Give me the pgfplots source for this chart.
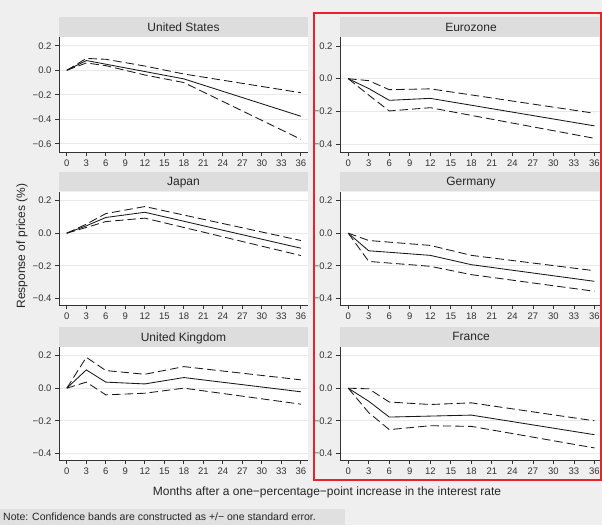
\documentclass[border=0pt]{standalone}
\usepackage{fontspec}
\setmainfont{Liberation Sans}
\usepackage{pgfplots}
\usepackage{pgfplotstable}
\pgfplotsset{compat=1.18}

\definecolor{bggray}{HTML}{EFEFEF}
\definecolor{bargray}{HTML}{DDDDDD}
\definecolor{notegray}{HTML}{E0E0E0}
\definecolor{gridgray}{HTML}{E8E8E8}
\definecolor{axisgray}{HTML}{333333}
\definecolor{boxred}{HTML}{E8232A}

% impulse responses: month, point estimate, lower band, upper band
\pgfplotstableread{
m   irf     lo      hi
0   0       0       0
3   0.080   0.060   0.097
6   0.050   0.038   0.090
12  -0.010  -0.038  0.035
18  -0.070  -0.100  -0.030
36  -0.375  -0.563  -0.183
}\tabUS
\pgfplotstableread{
m   irf     lo      hi
0   0       0       0
3   -0.060  -0.100  -0.012
6   -0.132  -0.197  -0.067
12  -0.120  -0.177  -0.062
18  -0.162  -0.224  -0.099
36  -0.288  -0.364  -0.211
}\tabEZ
\pgfplotstableread{
m   irf     lo      hi
0   0       0       0
3   0.045   0.035   0.055
6   0.096   0.071   0.120
12  0.128   0.092   0.163
18  0.073   0.035   0.111
36  -0.092  -0.137  -0.045
}\tabJP
\pgfplotstableread{
m   irf     lo      hi
0   0       0       0
3   -0.108  -0.173  -0.045
6   -0.117  -0.183  -0.055
12  -0.136  -0.203  -0.075
18  -0.193  -0.254  -0.136
36  -0.295  -0.356  -0.230
}\tabDE
\pgfplotstableread{
m   irf     lo      hi
0   0       0       0
3   0.112   0.037   0.189
6   0.037   -0.041  0.108
12  0.026   -0.031  0.085
18  0.065   0.000   0.132
36  -0.022  -0.098  0.051
}\tabUK
\pgfplotstableread{
m   irf     lo      hi
0   0       0       0
3   -0.080  -0.150  -0.004
6   -0.177  -0.254  -0.085
12  -0.171  -0.230  -0.100
18  -0.165  -0.234  -0.090
36  -0.285  -0.366  -0.200
}\tabFR

\pgfplotsset{
  panel/.style={
    scale only axis, anchor=south west,
    xmin=-1.2, xmax=37.1,
    axis x line*=bottom, axis y line*=left,
    xtick={0,3,...,36},
    /pgf/number format/assume math mode=true,
    tick align=outside, major tick length=4pt,
    ymajorgrids, grid style={gridgray, line width=0.9pt},
    axis background/.style={fill=white},
    axis line style={axisgray, line width=0.8pt},
    tick style={axisgray, line width=0.8pt},
    ticklabel style={font=\fontsize{9.5}{10}\selectfont, text=axisgray},
    every axis title shift=0pt,
    title style={at={(0.5,1)}, anchor=south, yshift=0pt, fill=bargray,
      inner sep=0pt, minimum height=19.5pt, text depth=0pt,
      font=\fontsize{12}{14}\selectfont, text=black!85},
    clip=false,
  },
  leftcol/.style={width=249pt, title style={minimum width=249pt}},
  rightcol/.style={width=262pt, title style={minimum width=262pt}},
  short/.style={ymin=-0.44, ymax=0.254, ytick={-0.4,-0.2,0,0.2},
    yticklabels={−0.4,−0.2,0.0,0.2}},
  est/.style={line width=0.85pt, black!90},
  band/.style={line width=0.85pt, black!90, dash pattern=on 8.5pt off 4pt},
}

\newcommand{\irfs}[1]{%
  \addplot[est] table[x=m, y=irf] {#1};
  \addplot[band] table[x=m, y=hi] {#1};
  \addplot[band] table[x=m, y=lo] {#1};
}

\begin{document}
\begin{tikzpicture}
\useasboundingbox (0pt,0pt) rectangle (602pt,525pt);
\fill[bggray] (0pt,0pt) rectangle (602pt,525pt);

% top row
\begin{axis}[panel, leftcol, at={(59pt,372.5pt)}, height=115.5pt,
  title={United States}, ymin=-0.671, ymax=0.272,
  ytick={-0.6,-0.4,-0.2,0,0.2}, yticklabels={−0.6,−0.4,−0.2,0.0,0.2}]
\irfs{\tabUS}
\end{axis}
\begin{axis}[panel, rightcol, at={(340pt,372.5pt)}, height=115.5pt,
  title={Eurozone}, ymin=-0.4505, ymax=0.2546, ytick={-0.4,-0.2,0,0.2},
  yticklabels={−0.4,−0.2,0.0,0.2}]
\irfs{\tabEZ}
\end{axis}

% middle row
\begin{axis}[panel, leftcol, short, at={(59pt,220pt)}, height=113.3pt, title={Japan}]
\irfs{\tabJP}
\end{axis}
\begin{axis}[panel, rightcol, short, at={(340pt,220pt)}, height=113.3pt, title={Germany}]
\irfs{\tabDE}
\end{axis}

% bottom row
\begin{axis}[panel, leftcol, short, at={(59pt,65pt)}, height=113.3pt, title={United Kingdom}]
\irfs{\tabUK}
\end{axis}
\begin{axis}[panel, rightcol, short, at={(340pt,65pt)}, height=113.3pt, title={France}]
\irfs{\tabFR}
\end{axis}

% euro-area countries
\draw[boxred, line width=2pt] (314pt,45pt) rectangle (601pt,512.3pt);

% shared axis titles
\node[rotate=90, font=\fontsize{12}{14}\selectfont, text=black!85] at (22pt,279pt)
  {Response of prices (\%)};
\node[font=\fontsize{12}{14}\selectfont, text=black!85] at (327pt,33pt)
  {Months after a one−percentage−point increase in the interest rate};

% note
\fill[notegray] (0pt,0pt) rectangle (345pt,16pt);
\node[anchor=west, font=\fontsize{10.5}{12}\selectfont, text=black!85, inner sep=0pt]
  at (3pt,8pt) {Note: Confidence bands are constructed as +/− one standard error.};
\end{tikzpicture}
\end{document}
